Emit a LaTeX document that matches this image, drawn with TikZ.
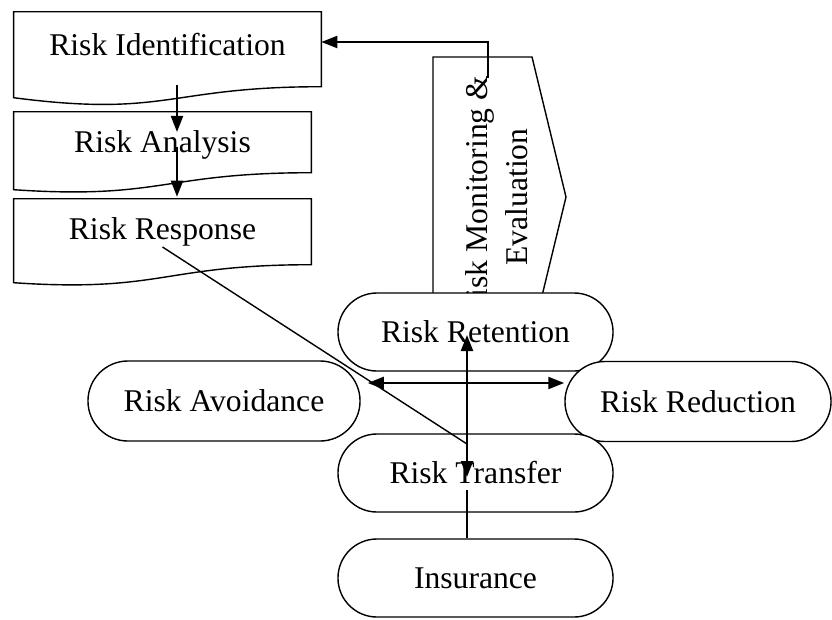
\documentclass[tikz,border=0pt]{standalone}
\usepackage{fontspec}
\setmainfont{Liberation Serif}
\usetikzlibrary{arrows.meta,calc,shapes.misc}

\newcommand\docshape[4]{%
  \draw[edge] (#1.north west) -- (#1.north east) -- ($(#1.north east)+(0,#2)$)
    .. controls ($(#1.north)+(0,#2)$) and ($(#1.north)+(0,#4)$) .. ($(#1.north west)+(0,#3)$) -- cycle;}

\begin{document}
\begin{tikzpicture}[
  x=0.025cm, y=-0.025cm,
  font=\fontsize{22.5}{28.5}\selectfont,
  >={Triangle[length=4mm,width=3mm]},
  docbox/.style={minimum height=1.65cm,inner sep=0pt},
  option/.style={draw,line width=1pt,fill=white,rounded rectangle,minimum height=1.95cm,minimum width=6.875cm,inner sep=0pt},
  edge/.style={line width=1pt},
  flow/.style={->,line width=1.4pt},
  biflow/.style={<->,line width=1.6pt}
]
\useasboundingbox (0,0) rectangle (832,619);

\node[docbox,minimum width=7.675cm] (ident) at (167.5,45) {Risk Identification};
\node[docbox,minimum width=7.425cm] (analysis) at (162.5,145) {Risk Analysis};
\node[docbox,minimum width=7.425cm] (response) at (162.5,232) {Risk Response};
\docshape{ident}{75}{86}{106}
\docshape{analysis}{61}{78}{88}
\docshape{response}{66}{84}{94}

\draw[edge,fill=white] (433,57) -- (532,57) -- (566,197) -- (532,337) -- (433,337) -- cycle;
\node[rotate=90,align=center,inner sep=0pt] (monitor) at (497,197) {Risk Monitoring \&\\Evaluation};
\coordinate (mtop) at (488,78);

\node[option] (retention) at (475.5,332) {Risk Retention};
\node[option,minimum width=6.8cm,minimum height=2cm] (avoid) at (224,401) {Risk Avoidance};
\node[option,minimum width=6.65cm,minimum height=2cm] (reduce) at (698,401.5) {Risk Reduction};
\node[option] (transfer) at (475.5,473) {Risk Transfer};
\node[option] (insurance) at (475.5,578) {Insurance};

\draw[flow] ($(ident.south)+(9.5,7)$) -- ($(analysis.center)+(14.5,-13)$);
\draw[flow] ($(analysis.center)+(14.5,2)$) -- ($(response.north)+(14.5,-2)$);
\draw[flow] (mtop) |- ($(ident.east)+(0,-3)$);
\draw[biflow] ($(retention.center)+(-8.5,3)$) -- ($(transfer.center)+(-8.5,4)$);
\draw[line width=1.4pt] ($(insurance.north)+(-8.5,0)$) -- ($(transfer.center)+(-8.5,17)$);
\draw[biflow] ($(avoid.east)+(7,-18)$) -- ($(reduce.west)+(0,-18.5)$);
\draw[edge] ($(response.center)+(0,15)$) -- ($(transfer.center)+(-8.5,-29)$);
\end{tikzpicture}
\end{document}
